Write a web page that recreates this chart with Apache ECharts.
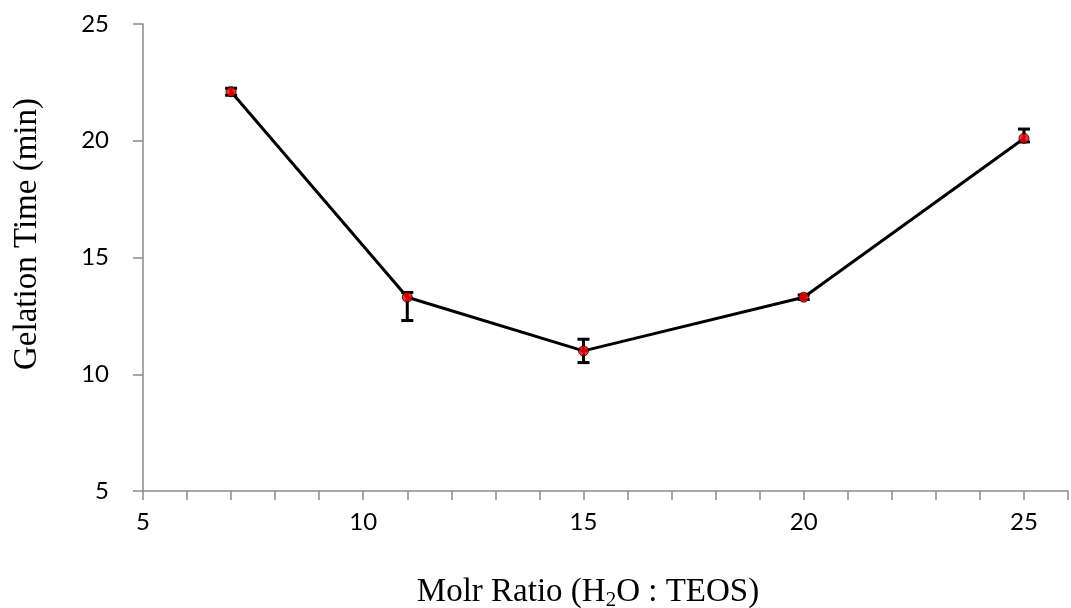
<!DOCTYPE html>
<html>
<head>
<meta charset="utf-8">
<script src="https://cdn.jsdelivr.net/npm/echarts@6/dist/echarts.min.js"></script>
<style>
  html, body { margin: 0; padding: 0; background: #fff; }
  #chart { width: 1071px; height: 608px; }
</style>
</head>
<body>
<div id="chart"></div>
<script>
// Molar ratio (H2O : TEOS) and measured gelation time
const ratios = [7, 11, 15, 20, 25];
const gelTime = [22.1, 13.3, 11.0, 13.3, 20.1];
// error bar extents (plus / minus) in minutes
const errPlus = [0.15, 0.2, 0.5, 0.1, 0.4];
const errMinus = [0.15, 1.0, 0.5, 0.1, 0.15];

const xTicks = [5, 10, 15, 20, 25];
const yTicks = [5, 10, 15, 20, 25];

const xTitle = 'Molr Ratio (H{sub|2}O : TEOS)';
const yTitle = 'Gelation Time (min)';

const points = ratios.map((r, i) => [r, gelTime[i]]);
const errData = ratios.map((r, i) => [r, gelTime[i] + errPlus[i], gelTime[i] - errMinus[i]]);

const axisGray = '#8a8a8a';
const titleFont = 'Liberation Serif';
const chart = echarts.init(document.getElementById('chart'));

chart.setOption({
  animation: false,
  backgroundColor: '#fff',
  grid: { left: 143, top: 24, width: 930, height: 467, containLabel: false },
  graphic: [
    {
      type: 'text',
      x: 588,
      y: 592,
      style: {
        text: xTitle,
        font: '33px "' + titleFont + '"',
        fill: '#000',
        align: 'center',
        verticalAlign: 'middle',
        rich: {
          sub: { fontFamily: titleFont, fontSize: 21, fill: '#000', padding: [17, 0, 0, 0] }
        }
      }
    },
    {
      type: 'text',
      x: 27,
      y: 234,
      rotation: Math.PI / 2,
      style: {
        text: yTitle,
        font: '33px "' + titleFont + '"',
        fill: '#000',
        align: 'center',
        verticalAlign: 'middle'
      }
    }
  ],
  xAxis: {
    type: 'value',
    min: 5,
    max: 26,
    interval: 1,
    axisLine: { show: true, lineStyle: { color: axisGray, width: 1.5 } },
    axisTick: { show: true, length: 9, inside: false, lineStyle: { color: axisGray, width: 1.5 } },
    splitLine: { show: false },
    axisLabel: {
      margin: 19,
      fontFamily: 'Lato',
      fontSize: 24,
      color: '#000',
      formatter: v => (xTicks.indexOf(v) >= 0 ? String(v) : '')
    }
  },
  yAxis: {
    type: 'value',
    min: 5,
    max: 25,
    interval: 5,
    axisLine: { show: true, lineStyle: { color: axisGray, width: 1.5 } },
    axisTick: { show: true, length: 10, inside: false, lineStyle: { color: axisGray, width: 1.5 } },
    splitLine: { show: false },
    axisLabel: {
      margin: 34,
      fontFamily: 'Lato',
      fontSize: 24,
      color: '#000',
      formatter: v => (yTicks.indexOf(v) >= 0 ? String(v) : '')
    }
  },
  series: [
    {
      type: 'line',
      data: points,
      z: 2,
      lineStyle: { color: '#000', width: 3 },
      symbol: 'none'
    },
    {
      type: 'custom',
      z: 3,
      data: errData,
      renderItem: function (params, api) {
        const x = api.value(0);
        const top = api.coord([x, api.value(1)]);
        const bot = api.coord([x, api.value(2)]);
        const hw = 6;
        const style = { stroke: '#000', lineWidth: 3 };
        return {
          type: 'group',
          children: [
            { type: 'line', shape: { x1: top[0], y1: top[1], x2: bot[0], y2: bot[1] }, style },
            { type: 'line', shape: { x1: top[0] - hw, y1: top[1], x2: top[0] + hw, y2: top[1] }, style },
            { type: 'line', shape: { x1: bot[0] - hw, y1: bot[1], x2: bot[0] + hw, y2: bot[1] }, style }
          ]
        };
      }
    },
    {
      type: 'scatter',
      data: points,
      z: 4,
      symbol: 'circle',
      symbolSize: 10,
      itemStyle: { color: '#ff0000', borderColor: '#000', borderWidth: 1 }
    }
  ]
});
</script>
</body>
</html>
